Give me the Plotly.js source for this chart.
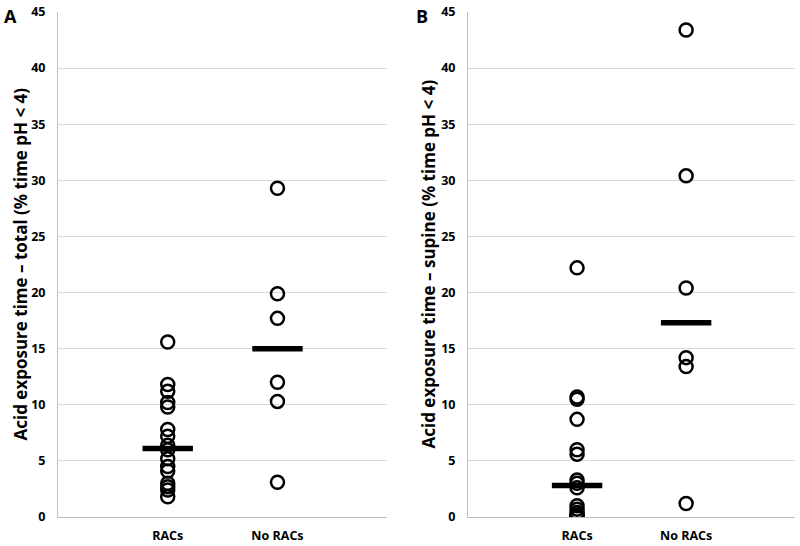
<!DOCTYPE html>
<html>
<head>
<meta charset="utf-8">
<script src="https://cdn.plot.ly/plotly-3.0.1.min.js"></script>
<style>
  body { margin: 0; background: #fff; }
  #chart { width: 800px; height: 546px; }
</style>
</head>
<body>
<div id="chart"></div>
<script>
const groups = ["RACs", "No RACs"];

// panel A: total acid exposure time (% time pH < 4)
const racsTotal = [15.6, 11.8, 11.2, 10.2, 9.8, 7.8, 7.2, 6.4, 6.0, 5.2, 4.5, 4.1, 3.0, 2.7, 2.4, 1.8];
const noRacsTotal = [29.3, 19.9, 17.7, 12.0, 10.3, 3.1];
const medianTotal = [6.1, 15.0];

// panel B: supine acid exposure time
const racsSupine = [22.2, 10.7, 10.5, 8.7, 6.0, 5.6, 3.3, 3.0, 2.6, 1.0, 0.7, 0.4, 0.2, 0.1, 0.0, 0.0];
const noRacsSupine = [43.4, 30.4, 20.4, 14.2, 13.4, 1.2];
const medianSupine = [2.8, 17.3];

const font = "'Open Sans', sans-serif";

function dots(vals, group, xa, ya) {
    return {
        x: vals.map(() => group),
        y: vals,
        xaxis: xa, yaxis: ya,
        type: 'scatter',
        mode: 'markers',
        marker: { symbol: 'circle-open', size: 13, color: '#000', line: { width: 2.5, color: '#000' } },
        hoverinfo: 'y',
        showlegend: false
    };
}

function medians(vals, xa, ya) {
    return {
        x: groups,
        y: vals,
        xaxis: xa, yaxis: ya,
        type: 'scatter',
        mode: 'markers',
        marker: { symbol: 'line-ew', size: 36, color: '#000', line: { width: 5.5, color: '#000' } },
        hoverinfo: 'y',
        showlegend: false
    };
}

const data = [
    dots(racsTotal, "RACs", 'x', 'y'),
    dots(noRacsTotal, "No RACs", 'x', 'y'),
    medians(medianTotal, 'x', 'y'),
    dots(racsSupine, "RACs", 'x2', 'y2'),
    dots(noRacsSupine, "No RACs", 'x2', 'y2'),
    medians(medianSupine, 'x2', 'y2')
];

const xCommon = {
    type: 'category',
    categoryorder: 'array',
    categoryarray: groups,
    range: [-1, 2],
    showgrid: false,
    showline: true,
    linecolor: '#bfbfbf',
    linewidth: 1,
    ticks: '',
    ticklabelstandoff: 7,
    tickfont: { family: font, size: 12.5, color: '#000', weight: 'bold' }
};

const yCommon = {
    range: [0, 45],
    dtick: 5,
    showgrid: true,
    gridcolor: '#d9d9d9',
    gridwidth: 1,
    zeroline: false,
    showline: true,
    linecolor: '#bfbfbf',
    linewidth: 1,
    ticks: '',
    ticklabelstandoff: 9,
    tickfont: { family: font, size: 12.5, color: '#000', weight: 'bold' }
};

const layout = {
    width: 800,
    height: 546,
    margin: { l: 0, r: 0, t: 12, b: 29 },
    paper_bgcolor: '#fff',
    plot_bgcolor: '#fff',
    xaxis: Object.assign({}, xCommon, { domain: [0.0725, 0.484], anchor: 'y' }),
    yaxis: Object.assign({}, yCommon, { anchor: 'x' }),
    xaxis2: Object.assign({}, xCommon, { domain: [0.585, 0.994], anchor: 'y2' }),
    yaxis2: Object.assign({}, yCommon, { anchor: 'x2' }),
    annotations: [
        { text: 'A', xref: 'paper', yref: 'paper', x: 0.002, y: 1.02, xanchor: 'left', yanchor: 'top',
          showarrow: false, font: { family: font, size: 18, color: '#000', weight: 'bold' } },
        { text: 'B', xref: 'paper', yref: 'paper', x: 0.518, y: 1.02, xanchor: 'left', yanchor: 'top',
          showarrow: false, font: { family: font, size: 18, color: '#000', weight: 'bold' } },
        { text: 'Acid exposure time \u2013 total (% time pH < 4)', xref: 'paper', yref: 'paper',
          x: 0.025, y: 0.5, xanchor: 'center', yanchor: 'middle', textangle: -90, showarrow: false,
          font: { family: font, size: 17, color: '#000', weight: 'bold' } },
        { text: 'Acid exposure time \u2013 supine (% time pH < 4)', xref: 'paper', yref: 'paper',
          x: 0.535, y: 0.5, xanchor: 'center', yanchor: 'middle', textangle: -90, showarrow: false,
          font: { family: font, size: 17, color: '#000', weight: 'bold' } }
    ]
};

Plotly.newPlot('chart', data, layout, { staticPlot: true });
</script>
</body>
</html>
